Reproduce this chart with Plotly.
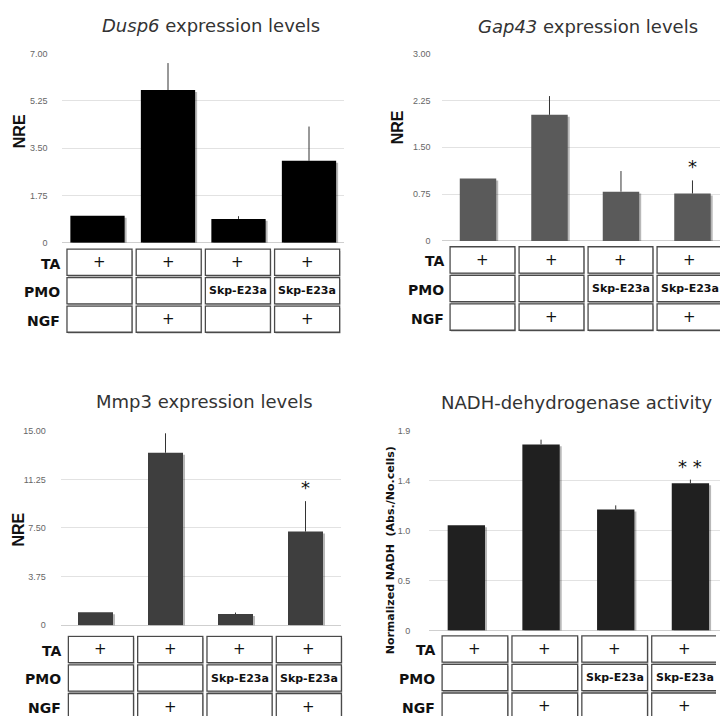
import plotly.graph_objects as go

W, H = 720, 721

# ---------------- data ----------------
groups = ["G1", "G2", "G3", "G4"]

dusp6_vals = [1.0, 5.65, 0.88, 3.03]
dusp6_err = [0.0, 1.0, 0.1, 1.27]

gap43_vals = [1.0, 2.02, 0.79, 0.76]
gap43_err = [0.0, 0.30, 0.33, 0.21]

mmp3_vals = [1.0, 13.3, 0.86, 7.22]
mmp3_err = [0.0, 1.5, 0.12, 2.35]

nadh_vals = [1.0, 1.77, 1.15, 1.40]
nadh_err = [0.0, 0.045, 0.04, 0.035]

row_labels = ["TA", "PMO", "NGF"]
ta_row = ["+", "+", "+", "+"]
pmo_row = ["", "", "Skp-E23a", "Skp-E23a"]
ngf_row = ["", "+", "", "+"]

dusp6_ticks = [0, 1.75, 3.5, 5.25, 7.0]
dusp6_ticktext = ["0", "1.75", "3.50", "5.25", "7.00"]
gap43_ticks = [0, 0.75, 1.5, 2.25, 3.0]
gap43_ticktext = ["0", "0.75", "1.50", "2.25", "3.00"]
mmp3_ticks = [0, 3.75, 7.5, 11.25, 15.0]
mmp3_ticktext = ["0", "3.75", "7.50", "11.25", "15.00"]
nadh_ticks = [0, 0.475, 0.95, 1.425, 1.9]
nadh_ticktext = ["0", "0.5", "1.0", "1.4", "1.9"]

# ---------------- layout helpers ----------------
def px(x):
    return x / W

def py(y):
    return 1 - y / H

panels = [
    dict(title="<i>Dusp6</i> expression levels", tx=211, ty=21,
         vals=dusp6_vals, err=dusp6_err, color="#000000", width=0.77,
         ticks=dusp6_ticks, ticktext=dusp6_ticktext, ymax=7.0,
         bx=(62.25, 344.25), bxr=3.5, by=(49.3, 241.0),
         tbx=(64.9, 341.7), tbxr=3.5, tby=(246.5, 333.0), tbyr=3.0,
         ytitle="NRE", ytx=19, yty=128, ytsize=16, lblx=62,
         stars=["", "", "", ""], ticklen=12),
    dict(title="<i>Gap43</i> expression levels", tx=588, ty=22,
         vals=gap43_vals, err=gap43_err, color="#5a5a5a", width=0.51,
         ticks=gap43_ticks, ticktext=gap43_ticktext, ymax=3.0,
         bx=(442.25, 720), bxr=3.385, by=(49.3, 239.3),
         tbx=(448, 720), tbxr=3.442, tby=(244.0, 331.0), tbyr=3.0,
         ytitle="NRE", ytx=397, yty=124, ytsize=16, lblx=446,
         stars=["", "", "", "*"], ticklen=9),
    dict(title="Mmp3 expression levels", tx=204, ty=402,
         vals=mmp3_vals, err=mmp3_err, color="#3e3e3e", width=0.5,
         ticks=mmp3_ticks, ticktext=mmp3_ticktext, ymax=15.0,
         bx=(60.5, 340.5), bxr=3.5, by=(431.7, 629.0),
         tbx=(66.3, 343.5), tbxr=3.5, tby=(639.0, 721.0), tbyr=82 / 29,
         ytitle="NRE", ytx=19, yty=532, ytsize=16, lblx=63,
         stars=["", "", "", "*"], ticklen=12),
    dict(title="NADH-dehydrogenase activity", tx=576, ty=403,
         vals=nadh_vals, err=nadh_err, color="#202020", width=0.5,
         ticks=nadh_ticks, ticktext=nadh_ticktext, ymax=1.9,
         bx=(429, 720), bxr=3.396, by=(431.7, 634.3),
         tbx=(440, 716), tbxr=3.45, tby=(638.5, 721.0), tbyr=82.5 / 29,
         ytitle="Normalized NADH  (Abs./No.cells)", ytx=390, yty=553,
         ytsize=11, lblx=437, stars=["", "", "", "* *"], ticklen=16),
]

fig = go.Figure()
layout = dict(
    width=W, height=H, margin=dict(l=0, r=0, t=0, b=0),
    paper_bgcolor="white", plot_bgcolor="white", showlegend=False,
    barmode="overlay",
)
annotations = []
shapes = []

rows = [ta_row, pmo_row, ngf_row]

for i, p in enumerate(panels):
    bi = 2 * i + 1
    ti = 2 * i + 2
    bxname, byname = f"x{bi}", f"y{bi}"
    txname, tyname = f"x{ti}", f"y{ti}"
    bxkey = "xaxis" if bi == 1 else f"xaxis{bi}"
    bykey = "yaxis" if bi == 1 else f"yaxis{bi}"

    plot_h = p["by"][1] - p["by"][0]
    plot_w = p["bx"][1] - p["bx"][0]
    unit_px = plot_w / (p["bxr"] + 0.5)
    dy = 2.0 * p["ymax"] / plot_h      # 2 px in data units
    dx = 2.0 / unit_px                  # 2 px in category units

    # soft drop shadow
    fig.add_trace(go.Bar(
        x=[0, 1, 2, 3], y=p["vals"], base=-dy, width=p["width"],
        offset=-p["width"] / 2 + dx,
        marker=dict(color="rgba(0,0,0,0.28)", line=dict(width=0)),
        xaxis=bxname, yaxis=byname, hoverinfo="skip",
    ))
    fig.add_trace(go.Bar(
        x=[0, 1, 2, 3], y=p["vals"], width=p["width"],
        offset=-p["width"] / 2,
        marker=dict(color=p["color"], line=dict(width=0)),
        error_y=dict(type="data", symmetric=False, array=p["err"],
                     arrayminus=[0] * 4, color="#333333",
                     thickness=1, width=0),
        xaxis=bxname, yaxis=byname, hoverinfo="skip",
    ))

    layout[bxkey] = dict(
        domain=[px(p["bx"][0]), px(p["bx"][1])],
        range=[-0.5, p["bxr"]], anchor=byname,
        showticklabels=False, showgrid=False, zeroline=False,
        showline=False, ticks="",
    )
    layout[bykey] = dict(
        domain=[py(p["by"][1]), py(p["by"][0])],
        range=[0, p["ymax"]], anchor=bxname,
        tickvals=p["ticks"], ticktext=p["ticktext"],
        tickfont=dict(family="Liberation Sans", size=9, color="#666666"),
        ticks="outside", ticklen=p["ticklen"], tickcolor="rgba(0,0,0,0)",
        showgrid=True, gridcolor="#e2e2e2", gridwidth=1,
        zeroline=True, zerolinecolor="#cfcfcf", zerolinewidth=1,
        showline=False,
    )
    layout[f"xaxis{ti}"] = dict(
        domain=[px(p["tbx"][0]), px(p["tbx"][1])],
        range=[-0.5, p["tbxr"]], anchor=tyname,
        visible=False,
    )
    layout[f"yaxis{ti}"] = dict(
        domain=[py(p["tby"][1]), py(p["tby"][0])],
        range=[p["tbyr"], 0], anchor=txname,
        visible=False,
    )

    # title
    annotations.append(dict(
        text=p["title"], x=px(p["tx"]), y=py(p["ty"]),
        xref="paper", yref="paper", showarrow=False,
        xanchor="center", yanchor="middle",
        font=dict(family="DejaVu Sans", size=18, color="#333333"),
    ))
    # y title
    annotations.append(dict(
        text=f"<b>{p['ytitle']}</b>", x=px(p["ytx"]), y=py(p["yty"]),
        xref="paper", yref="paper", showarrow=False, textangle=-90,
        xanchor="center", yanchor="middle",
        font=dict(family="DejaVu Sans" if p["ytsize"] < 12 else "Liberation Sans",
                  size=p["ytsize"], color="#111111"),
    ))
    # significance stars
    for k, s in enumerate(p["stars"]):
        if s:
            annotations.append(dict(
                text=s, x=k, y=p["vals"][k] + p["err"][k],
                xref=bxname, yref=byname, showarrow=False,
                xanchor="center", yanchor="bottom", yshift=1,
                font=dict(family="DejaVu Sans", size=18, color="#111111"),
            ))

    # table cells
    for r, rowvals in enumerate(rows):
        annotations.append(dict(
            text=f"<b>{row_labels[r]}</b>", x=px(p["lblx"]), y=r + 0.55,
            xref="paper", yref=tyname, showarrow=False,
            xanchor="right", yanchor="middle",
            font=dict(family="DejaVu Sans", size=14, color="#111111"),
        ))
        for c, val in enumerate(rowvals):
            shapes.append(dict(
                type="rect", xref=txname, yref=tyname,
                x0=c - 0.47 + 0.012, x1=c + 0.47 + 0.012,
                y0=r + 0.04 + 0.06, y1=r + 0.96 + 0.06,
                line=dict(width=0), fillcolor="#b5b5b5", layer="below",
            ))
            shapes.append(dict(
                type="rect", xref=txname, yref=tyname,
                x0=c - 0.47, x1=c + 0.47, y0=r + 0.04, y1=r + 0.96,
                line=dict(color="#4a4a4a", width=1.3), fillcolor="white",
                layer="below",
            ))
            if val:
                is_plus = val == "+"
                annotations.append(dict(
                    text=val if is_plus else f"<b>{val}</b>",
                    x=c, y=r + 0.5, xref=txname, yref=tyname,
                    showarrow=False, xanchor="center", yanchor="middle",
                    font=dict(family="DejaVu Sans", size=15 if is_plus else 11,
                              color="#111111"),
                ))

layout["annotations"] = annotations
layout["shapes"] = shapes
fig.update_layout(**layout)

fig.write_html("out.html")
